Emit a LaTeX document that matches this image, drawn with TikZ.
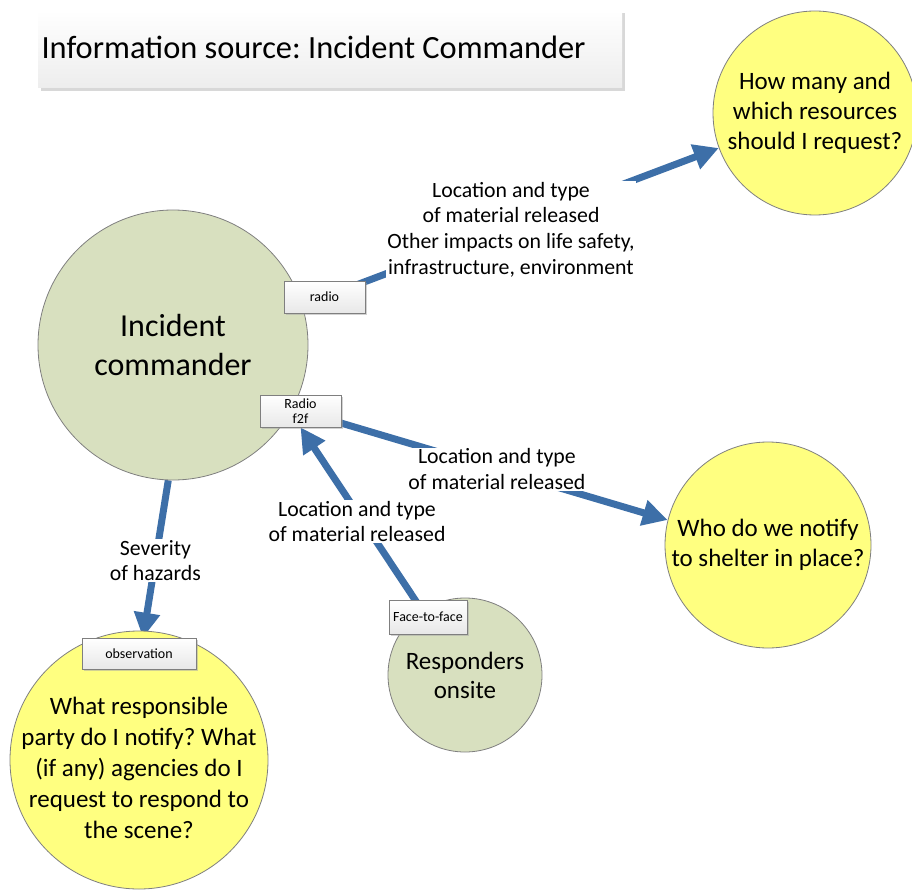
\documentclass[tikz,border=0pt]{standalone}
\usepackage{fontspec}
\setmainfont{Carlito}
\frenchspacing
\usetikzlibrary{arrows.meta,shadows,calc}
\pgfdeclarelayer{background}
\pgfsetlayers{background,main}

\definecolor{flowblue}{HTML}{3D6FA8}
\definecolor{sagefill}{HTML}{D8E0BF}
\definecolor{questfill}{HTML}{FFFF80}
\definecolor{rimgray}{HTML}{7F7F7F}

\tikzset{
  flow/.style={draw=flowblue, line width=7pt,
    -{Triangle[length=25pt,width=25pt]}},
  flowlabel/.style={fill=white, inner sep=1pt, align=center,
    font=\fontsize{21.8}{25.8}\selectfont},
  actor/.style={circle, draw=rimgray, line width=0.8pt, fill=sagefill,
    align=center, inner sep=0pt},
  question/.style={circle, draw=rimgray, line width=0.8pt, fill=questfill,
    align=center, inner sep=0pt},
  channel/.style={rectangle, draw=rimgray, line width=0.6pt,
    top color=white, bottom color=gray!18, align=center, inner sep=0pt,
    font=\fontsize{14}{15.5}\selectfont,
    drop shadow={shadow xshift=2pt, shadow yshift=-2pt, fill=gray!70, opacity=.5}},
  banner/.style={rectangle, top color=white, bottom color=gray!14,
    inner sep=0pt, minimum width=584pt, minimum height=78pt,
    drop shadow={shadow xshift=3pt, shadow yshift=-3pt, fill=gray!60, opacity=.5}},
}

\begin{document}
\begin{tikzpicture}[x=1pt, y=-1pt]
\useasboundingbox (0,0) rectangle (912,893);

% title banner
\node[banner] (title) at (330,49) {};
\node[anchor=west, font=\fontsize{32.4}{37}\selectfont] (titletext) at (38,47)
  {Information source: Incident Commander};

% actors
\node[actor, minimum size=270pt, font=\fontsize{32}{38.5}\selectfont]
  (cmd) at (173,345) {Incident\\commander};
\node[actor, minimum size=154pt, font=\fontsize{25}{29}\selectfont]
  (resp) at (465,675) {Responders\\onsite};

% questions
\node[question, minimum size=204pt, font=\fontsize{25}{30}\selectfont]
  (q1) at (815,113) {How many and\\which resources\\should I request?};
\node[question, minimum size=206pt, font=\fontsize{25}{30}\selectfont]
  (q2) at (768,545) {Who do we notify\\to shelter in place?};
\node[question, minimum size=258pt] (q3) at (139,760) {};
\node[align=center, font=\fontsize{25}{31}\selectfont] (q3text) at (139,768)
  {What responsible\\party do I notify? What\\(if any) agencies do I\\request to respond to\\the scene?};

% communication channels
\node[channel, minimum width=81pt, minimum height=32pt] (radio) at (324.5,297) {radio};
\node[channel, minimum width=81pt, minimum height=32pt] (f2f) at (300.5,411) {Radio\\f2f};
\node[channel, minimum width=114pt, minimum height=31pt] (obs) at (139,653.5) {observation};
\node[channel, minimum width=78pt, minimum height=34pt] (face) at (428,617) {Face-to-face};

\coordinate (obsin) at ($(obs.north)+(4,0)$);

% information flows
\begin{pgfonlayer}{background}
\draw[flow] (radio.center) -- (q1.200)
  node[flowlabel, pos=0.473, yshift=-3pt] (lab1) {Location and type\\of material released\\Other impacts on life safety,\\infrastructure, environment};
\draw[flow] (f2f.center) -- (q2.166)
  node[flowlabel, pos=0.535] (lab2) {Location and type\\of material released};
\draw[flow] (resp.center) -- (f2f.south)
  node[flowlabel, pos=0.62, xshift=-6pt] (lab3) {Location and type\\of material released};
\draw[flow] (cmd.-92) -- (obsin)
  node[flowlabel, pos=0.51] (lab4) {Severity\\of hazards};
\end{pgfonlayer}
\end{tikzpicture}
\end{document}
